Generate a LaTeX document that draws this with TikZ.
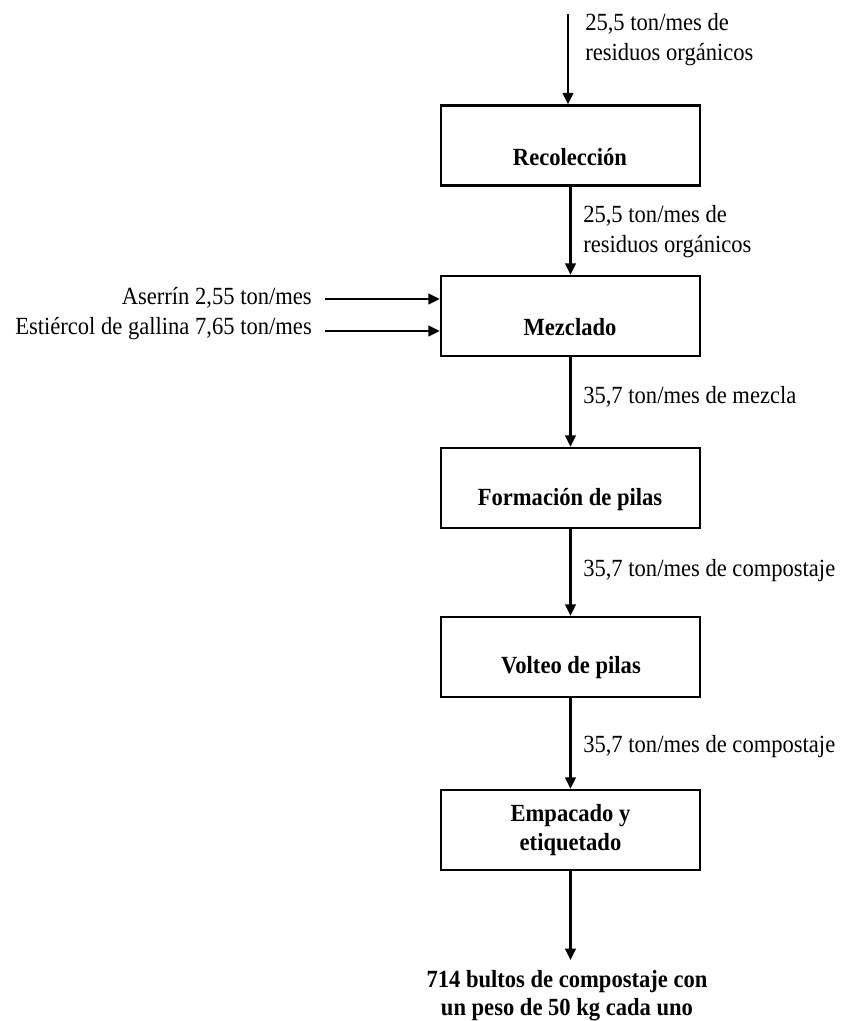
\documentclass[tikz,border=0pt]{standalone}
\usepackage{fontspec}
\setmainfont{Liberation Serif}[FakeStretch=0.915]
\usetikzlibrary{arrows.meta}
\begin{document}
\begin{tikzpicture}[x=0.75pt,y=-0.75pt,
  every node/.style={font=\fontsize{18.5}{22.5}\selectfont},
  box/.style={draw, line width=2pt, minimum width=194.25pt, minimum height=60pt, inner sep=0pt, align=center},
  btxt/.style={inner sep=0pt, font=\fontsize{18.5}{22}\selectfont\bfseries},
  lbl/.style={anchor=west, align=left, inner sep=0pt},
  inlbl/.style={anchor=east, inner sep=0pt},
  arr/.style={line width=1.6pt, -{Triangle[length=8.5pt,width=8pt]}}
]
\useasboundingbox (0,0) rectangle (840,1021);

% boxes
\node[box] (rec) at (570.5,145.5) {};
\node[box] (mez) at (570.5,316) {};
\node[box] (for) at (570.5,488) {};
\node[box] (vol) at (570.5,657) {};
\node[box, font=\fontsize{18.5}{22}\selectfont\bfseries] (emp) at (570.5,830) {Empacado y\\etiquetado};

% box texts
\node[btxt] (trec) at (570,157) {Recolección};
\node[btxt] (tmez) at (570,327) {Mezclado};
\node[btxt] (tfor) at (570,500) {Formación de pilas};
\node[btxt] (tvol) at (571,668) {Volteo de pilas};

% flow labels
\node[lbl] (l1) at (585,40) {25,5 ton/mes de\\residuos orgánicos};
\node[lbl] (l2) at (583,231.5) {25,5 ton/mes de\\residuos orgánicos};
\node[lbl] (l3) at (583,397) {35,7 ton/mes de mezcla};
\node[lbl] (l4) at (583,571) {35,7 ton/mes de compostaje};
\node[lbl] (l5) at (583,747) {35,7 ton/mes de compostaje};

% inputs
\node[inlbl] (as) at (312,298) {Aserrín 2,55 ton/mes};
\node[inlbl] (es) at (312,329) {Estiércol de gallina 7,65 ton/mes};
\coordinate (a1) at (325,299);
\coordinate (a2) at (325,331);

% output
\node[btxt, align=center, font=\fontsize{18.5}{21}\selectfont\bfseries] (out) at (567,996) {714 bultos de compostaje con\\un peso de 50 kg cada uno};
\coordinate (in) at (568,14);
\coordinate (end) at (570,960);

% connectors
\draw[arr] (in) -- (in |- rec.north);
\draw[arr] (rec.south) -- (mez.north);
\draw[arr] (mez.south) -- (for.north);
\draw[arr] (for.south) -- (vol.north);
\draw[arr] (vol.south) -- (emp.north);
\draw[arr] (emp.south) -- (emp.south |- end);
\draw[arr] (a1) -- (a1 -| mez.west);
\draw[arr] (a2) -- (a2 -| mez.west);
\end{tikzpicture}
\end{document}
